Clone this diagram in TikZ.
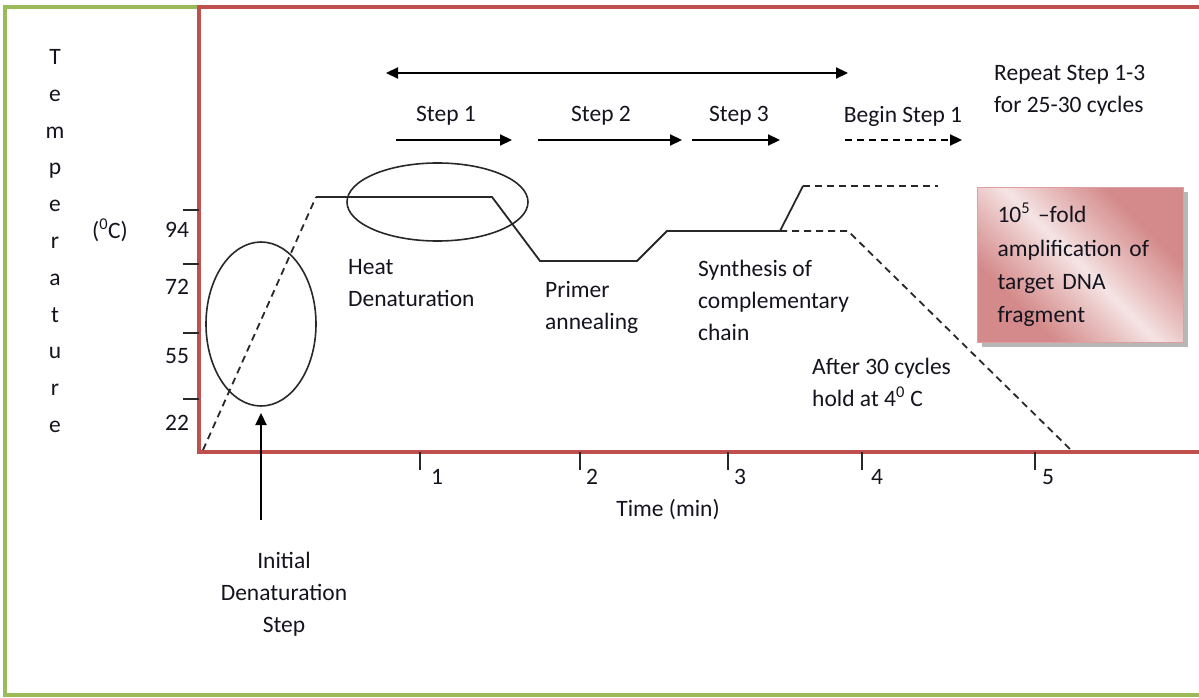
\documentclass[tikz,border=0pt]{standalone}
\usepackage{fontspec}
\setmainfont{Carlito}
\usetikzlibrary{arrows.meta,shadows}
\definecolor{framegreen}{RGB}{155,187,89}
\definecolor{framered}{RGB}{192,80,77}
\definecolor{curvegray}{RGB}{40,40,40}
\definecolor{pinkdark}{RGB}{212,138,138}
\definecolor{pinkmid}{RGB}{232,190,190}
\definecolor{pinklight}{RGB}{245,228,228}
\definecolor{pinkedge}{RGB}{222,160,158}
\definecolor{labelink}{RGB}{20,20,30}
\pgfdeclarehorizontalshading{pinkband}{100bp}{color(0bp)=(pinkdark); color(30bp)=(pinkdark); color(42bp)=(pinkmid); color(50bp)=(pinklight); color(58bp)=(pinkmid); color(70bp)=(pinkdark); color(100bp)=(pinkdark)}
\tikzset{
  lbl/.style={inner sep=0pt, text=labelink, font=\fontsize{23.5}{32}\selectfont},
  lblleft/.style={lbl, align=left, anchor=west},
  curve/.style={draw=curvegray, line width=1.8pt},
  dashcurve/.style={curve, dash pattern=on 7pt off 5pt},
  ring/.style={draw=curvegray, line width=1.6pt},
  steparrow/.style={draw=black, line width=2.2pt, -{Triangle[length=12pt,width=11pt]}},
  tick/.style={draw=curvegray, line width=1.6pt},
}
\begin{document}
\begin{tikzpicture}[x=1pt,y=-1pt]
\useasboundingbox (0,0) rectangle (1199,698);
\fill[white] (0,0) rectangle (1199,698);
% frames
\draw[framegreen, line width=4pt] (1210,695) -- (5,695) -- (5,7) -- (199,7);
\draw[framered, line width=4.5pt] (1210,7) -- (199,7) -- (199,452) -- (1210,452);

% vertical axis title
\node[lbl, align=center, font=\fontsize{23.5}{36.8}\selectfont] (ytitle) at (55,241)
  {T\\e\\m\\p\\e\\r\\a\\t\\u\\r\\e};
\node[lbl] (unit) at (110,230) {(\textsuperscript{0}C)};

% temperature ticks and values
\foreach \yy/\lab/\ly in {210/94/230, 264/72/287, 333/55/356, 399/22/423}{
  \draw[tick] (183,\yy) -- (199,\yy);
  \node[lbl] (t\lab) at (177,\ly) {\lab};
}
% time ticks and values
\foreach \xx/\lab/\lx in {420/1/437, 580/2/592, 728/3/740, 862/4/877, 1035/5/1048}{
  \draw[tick] (\xx,452) -- (\xx,470);
  \node[lbl] (m\lab) at (\lx,477) {\lab};
}
\node[lbl] (timelabel) at (668,510) {Time (min)};

% temperature profile
\coordinate (p0) at (203,450);
\coordinate (p1) at (316,197);
\coordinate (p2) at (492,197);
\coordinate (p3) at (540,261);
\coordinate (p4) at (637,261);
\coordinate (p5) at (667,231);
\coordinate (p6) at (780,231);
\coordinate (p7) at (803,186);
\coordinate (p8) at (938,186);
\coordinate (q1) at (848,231);
\coordinate (q2) at (1072,451);
\draw[dashcurve] (p0) -- (p1);
\draw[curve] (p1) -- (p2) -- (p3) -- (p4) -- (p5) -- (p6) -- (p7);
\draw[dashcurve] (p7) -- (p8);
\draw[dashcurve] (p6) -- (q1) -- (q2);

% highlighted denaturation stages
\draw[ring] (261,324) ellipse [x radius=55, y radius=82];
\draw[ring] (437.5,202) ellipse [x radius=90.5, y radius=39];

% cycle arrows
\coordinate (c0) at (386,73);
\coordinate (c1) at (848,73);
\draw[steparrow, {Triangle[length=12pt,width=11pt]}-{Triangle[length=12pt,width=11pt]}] (c0) -- (c1);
\coordinate (s1a) at (396,140); \coordinate (s1b) at (512,140);
\coordinate (s2a) at (538,140); \coordinate (s2b) at (682,140);
\coordinate (s3a) at (692,140); \coordinate (s3b) at (780,140);
\coordinate (s4a) at (845,140); \coordinate (s4b) at (962,140);
\draw[steparrow] (s1a) -- (s1b);
\draw[steparrow] (s2a) -- (s2b);
\draw[steparrow] (s3a) -- (s3b);
\draw[steparrow, dash pattern=on 7pt off 5pt] (s4a) -- (s4b);
\node[lbl] (step1) at (446,116) {Step 1};
\node[lbl] (step2) at (601,116) {Step 2};
\node[lbl] (step3) at (739,116) {Step 3};
\node[lbl] (step4) at (903,116) {Begin Step 1};
\node[lblleft] (repeat) at (994,91) {Repeat Step 1-3\\for 25-30 cycles};

% stage labels
\node[lblleft] (heat) at (348,283) {Heat\\Denaturation};
\node[lblleft] (primer) at (545,307) {Primer\\annealing};
\node[lblleft] (synth) at (698,300) {Synthesis of\\complementary\\chain};
\node[lblleft] (hold) at (812,382) {After 30 cycles\\hold at 4\textsuperscript{0} C};

% initial denaturation pointer
\node[lbl, align=center] (init) at (284,594) {Initial\\Denaturation\\Step};
\coordinate (ia) at (261,520);
\coordinate (ib) at (261,413);
\draw[steparrow] (ia) -- (ib);

% amplification box
\node[lbl, anchor=north west, minimum width=206pt, minimum height=155pt,
      text width=166pt, inner xsep=20pt, inner ysep=10pt, align=left,
      draw=pinkedge, line width=1pt, shading=pinkband, shading angle=45,
      drop shadow={shadow xshift=4pt, shadow yshift=-4pt, fill=black!35, opacity=0.8},
      font=\fontsize{23.5}{33.3}\selectfont]
  (amp) at (977,187)
  {10\textsuperscript{5} --fold\\amplification of\\target DNA\\fragment};
\end{tikzpicture}
\end{document}
